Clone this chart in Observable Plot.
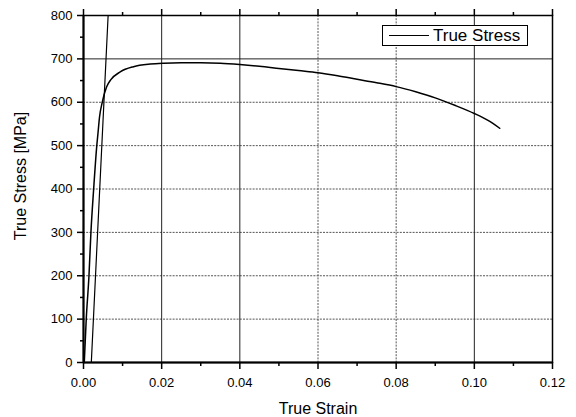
<!DOCTYPE html>
<html><head><meta charset="utf-8">
<script src="https://cdn.jsdelivr.net/npm/d3@7"></script>
<script src="https://cdn.jsdelivr.net/npm/@observablehq/plot@0.6"></script>
<style>
body{margin:0;background:#fff;}
#wrap{position:relative;width:576px;height:417px;font-family:"Liberation Sans",Arial,sans-serif;}
#legend{position:absolute;left:382px;top:25px;width:146px;height:21px;border:1.3px solid #000;box-sizing:border-box;background:#fff;}
#legend .ln{position:absolute;left:6px;top:9px;width:40px;height:0;border-top:1.3px solid #000;}
#legend .tx{position:absolute;left:50px;top:0px;line-height:19px;font-size:17px;color:#000;}
</style></head><body><div id="wrap"><div id="legend"><div class="ln"></div><div class="tx">True Stress</div></div></div>
<script>
const strain = [0.0002,0.0007,0.0014,0.0019,0.0026,0.0034,0.0037,0.0041,0.0048,0.0059,0.0070,0.0094,0.0128,0.0171,0.0205,0.025,0.03,0.035,0.04,0.045,0.05,0.055,0.06,0.065,0.07,0.075,0.08,0.085,0.09,0.095,0.1,0.1035,0.1065];
const stress = [0,100,200,300,400,500,528,566,600,635,652,670,682,688,690,691,691,690,687,683,678,673,668,661,653,645,636,624,610,593,574,558,540];
const elasticStrain = [0.002,0.0063];
const elasticStress = [0,800];
const xTicks = [0,0.02,0.04,0.06,0.08,0.10,0.12];
const xMinor = [0.01,0.03,0.05,0.07,0.09,0.11];
const yTicks = [0,100,200,300,400,500,600,700,800];
const yMinor = [50,150,250,350,450,550,650,750];
const gridSolidX = [0.02,0.04,0.10];
const gridDotX = [0.06,0.08];
const gridSolidY = [700];
const gridDotY = [100,200,300,400,500,600];

const curve = strain.map((s,i)=>({strain:s, stress:stress[i]}));
const elastic = elasticStrain.map((s,i)=>({strain:s, stress:elasticStress[i]}));

const chart = Plot.plot({
  width:576, height:417,
  marginLeft:83, marginRight:24, marginTop:15, marginBottom:55,
  style:{fontFamily:'"Liberation Sans",Arial,sans-serif', background:"#fff", color:"#000"},
  x:{domain:[0,0.12], axis:null},
  y:{domain:[0,800], axis:null},
  marks:[
    Plot.ruleX(gridDotX,{stroke:"#555", strokeWidth:1, strokeDasharray:"2,1.2"}),
    Plot.ruleY(gridDotY,{stroke:"#555", strokeWidth:1, strokeDasharray:"2,1.2"}),
    Plot.ruleX(gridSolidX,{stroke:"#222", strokeWidth:1}),
    Plot.ruleY(gridSolidY,{stroke:"#222", strokeWidth:1}),
    Plot.frame({stroke:"#000", strokeWidth:1.5}),
    Plot.ruleX([0],{stroke:"#000", strokeWidth:2}),
    Plot.ruleY([0],{stroke:"#000", strokeWidth:2}),
    Plot.axisX(xTicks,{anchor:"bottom", tickSize:7, tickPadding:8, tickFormat:d3.format(".2f"), fontSize:13, label:null, strokeWidth:1.5}),
    Plot.axisX(xMinor,{anchor:"bottom", tickSize:4, tickFormat:()=>"", label:null, strokeWidth:1.5}),
    Plot.axisX(xTicks,{anchor:"top", tickSize:7, tickFormat:()=>"", label:null, strokeWidth:1.5}),
    Plot.axisX(xMinor,{anchor:"top", tickSize:4, tickFormat:()=>"", label:null, strokeWidth:1.5}),
    Plot.axisY(yTicks,{anchor:"left", tickSize:6, tickPadding:5, fontSize:13, label:null, strokeWidth:1.5}),
    Plot.axisY(yMinor,{anchor:"left", tickSize:3, tickFormat:()=>"", label:null, strokeWidth:1.5}),
    Plot.line(elastic,{x:"strain", y:"stress", stroke:"#000", strokeWidth:1.2}),
    Plot.line(curve,{x:"strain", y:"stress", stroke:"#000", strokeWidth:1.5, curve:"monotone-x"}),
    Plot.text(["True Strain"],{frameAnchor:"bottom", dy:46, fontSize:16, lineAnchor:"middle"}),
    Plot.text(["True Stress [MPa]"],{frameAnchor:"left", dx:-63, dy:-13, rotate:-90, fontSize:16, textAnchor:"middle", lineAnchor:"middle"})
  ]
});
document.getElementById("wrap").prepend(chart);
</script></body></html>
